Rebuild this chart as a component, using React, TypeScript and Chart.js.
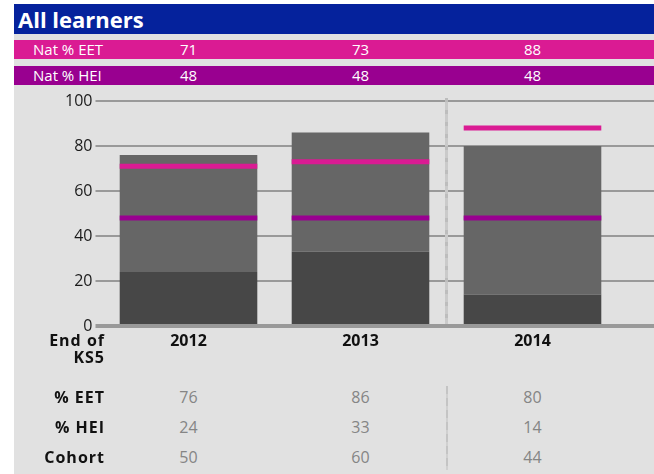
import React, { useEffect, useRef, useState } from "react";
import { Chart, registerables } from "chart.js";

Chart.register(...registerables);

const years = ["2012", "2013", "2014"];
const pctEET = [76, 86, 80];
const pctHEI = [24, 33, 14];
const cohort = [50, 60, 44];
const natEET = [71, 73, 88];
const natHEI = [48, 48, 48];
const yMin = 0;
const yMax = 100;
const yStep = 20;

const FONT = "'Open Sans', 'Noto Sans', sans-serif";
const BLUE = "#05229c";
const PINK = "#da1b93";
const PURPLE = "#990090";
const PANEL = "#e1e1e1";
const GRID = "#999999";
const DARK_BAR = "#474747";
const MID_BAR = "#666666";
const CANVAS_LEFT = 14;
const CANVAS_TOP = 88;
const CANVAS_W = 640;
const CANVAS_H = 268;

const gridWidth = (v: number) => (v === 0 ? 4 : 2);
const alignPx = (p: number, w: number) => Math.round(p - w / 2) + w / 2;

const extrasPlugin = {
  id: "extras",
  beforeDatasetsDraw(chart: any) {
    const { ctx, chartArea, scales } = chart;
    const x = scales.x;
    const y = scales.y;
    ctx.save();
    // separator between 2013 and 2014
    const sx = (x.getPixelForValue(1) + x.getPixelForValue(2)) / 2;
    ctx.strokeStyle = "#cacaca";
    ctx.lineWidth = 3;
    ctx.beginPath();
    ctx.moveTo(sx, chartArea.top - 3);
    ctx.lineTo(sx, chartArea.bottom - 2);
    ctx.stroke();
    ctx.strokeStyle = "#bdbdbd";
    ctx.setLineDash([4, 8]);
    ctx.beginPath();
    ctx.moveTo(sx, chartArea.top - 3);
    ctx.lineTo(sx, chartArea.bottom - 2);
    ctx.stroke();
    ctx.setLineDash([]);
    // extend grid lines to the right edge
    ctx.strokeStyle = GRID;
    y.ticks.forEach((t: any) => {
      const lw = gridWidth(t.value);
      const py = alignPx(y.getPixelForValue(t.value), lw);
      ctx.lineWidth = lw;
      ctx.beginPath();
      ctx.moveTo(chartArea.right - 1, py);
      ctx.lineTo(chart.width, py);
      ctx.stroke();
    });
    ctx.restore();
  },
};

export default function App() {
  const canvasRef = useRef<HTMLCanvasElement | null>(null);
  const [centers, setCenters] = useState<number[]>([188.5, 360.5, 532.5]);
  const [sepX, setSepX] = useState<number>(446.5);

  useEffect(() => {
    const canvas = canvasRef.current;
    if (!canvas) return;
    const remainder = pctEET.map((v, i) => v - pctHEI[i]);
    const chart = new Chart(canvas, {
      type: "bar",
      data: {
        labels: years,
        datasets: [
          {
            label: "Nat % EET",
            data: natEET.map((v) => [v - 1.1, v + 1.1]) as any,
            backgroundColor: PINK,
            stack: "natEET",
            grouped: false,
            order: 0,
            barPercentage: 0.8,
            categoryPercentage: 1,
          } as any,
          {
            label: "Nat % HEI",
            data: natHEI.map((v) => [v - 1.1, v + 1.1]) as any,
            backgroundColor: PURPLE,
            stack: "natHEI",
            grouped: false,
            order: 0,
            barPercentage: 0.8,
            categoryPercentage: 1,
          } as any,
          {
            label: "% HEI",
            data: pctHEI,
            backgroundColor: DARK_BAR,
            stack: "main",
            order: 1,
            barPercentage: 0.8,
            categoryPercentage: 1,
          },
          {
            label: "% EET",
            data: remainder,
            backgroundColor: MID_BAR,
            stack: "main",
            order: 1,
            barPercentage: 0.8,
            categoryPercentage: 1,
          },
        ],
      },
      options: {
        responsive: false,
        animation: false,
        layout: { padding: { top: 13, right: 35.5, left: 0, bottom: 0 } },
        plugins: {
          legend: { display: false },
          tooltip: { enabled: false },
        },
        scales: {
          x: {
            stacked: true,
            grid: { display: false, drawTicks: false },
            border: { display: false },
            ticks: {
              color: "#111111",
              font: { family: FONT, size: 16, weight: "bold" },
              padding: 6,
            },
            afterFit(scale: any) {
              scale.height = 30;
            },
          },
          y: {
            stacked: true,
            min: yMin,
            max: yMax,
            border: { display: false },
            grid: {
              color: GRID,
              tickColor: GRID,
              tickLength: 7,
              lineWidth: (c: any) => (c.tick ? gridWidth(c.tick.value) : 2),
            },
            ticks: {
              stepSize: yStep,
              color: "#1a1a1a",
              font: { family: FONT, size: 16 },
              padding: 3,
            },
            afterFit(scale: any) {
              scale.width = 88.5;
            },
          },
        },
      } as any,
      plugins: [extrasPlugin],
    });
    const xs = chart.scales.x;
    setCenters(years.map((_, i) => CANVAS_LEFT + xs.getPixelForValue(i)));
    setSepX(CANVAS_LEFT + (xs.getPixelForValue(1) + xs.getPixelForValue(2)) / 2);
    return () => chart.destroy();
  }, []);

  const headerRow = (label: string, values: number[], bg: string, top: number) => (
    <div
      style={{
        position: "absolute",
        left: 14,
        top,
        width: 640,
        height: 19,
        background: bg,
        color: "#ffffff",
        fontFamily: FONT,
        fontSize: 15,
        lineHeight: "19px",
      }}
    >
      <span style={{ position: "absolute", left: 19, top: 0 }}>{label}</span>
      {values.map((v, i) => (
        <span
          key={i}
          style={{
            position: "absolute",
            left: centers[i] - 14 - 30,
            width: 60,
            textAlign: "center",
            top: 0,
          }}
        >
          {v}
        </span>
      ))}
    </div>
  );

  const labelStyle: React.CSSProperties = {
    position: "absolute",
    left: 0,
    width: 105,
    textAlign: "right",
    fontFamily: FONT,
    fontWeight: "bold",
    fontSize: 16,
    letterSpacing: 1,
    color: "#111111",
  };

  const tableRow = (label: string, values: number[], centerY: number) => (
    <React.Fragment key={label}>
      <div style={{ ...labelStyle, top: centerY - 10, height: 20, lineHeight: "20px" }}>{label}</div>
      {values.map((v, i) => (
        <div
          key={i}
          style={{
            position: "absolute",
            left: centers[i] - 30,
            width: 60,
            top: centerY - 10,
            height: 20,
            lineHeight: "20px",
            textAlign: "center",
            fontFamily: FONT,
            fontSize: 16,
            color: "#858585",
          }}
        >
          {v}
        </div>
      ))}
    </React.Fragment>
  );

  return (
    <div style={{ position: "absolute", left: 0, top: 0, width: 654, height: 474, background: "#ffffff", overflow: "hidden" }}>
      <div style={{ position: "absolute", left: 14, top: 4, width: 640, height: 470, background: PANEL }} />
      <div
        style={{
          position: "absolute",
          left: 14,
          top: 4,
          width: 640,
          height: 30,
          background: BLUE,
          color: "#ffffff",
          fontFamily: FONT,
          fontWeight: "bold",
          fontSize: 22,
          lineHeight: "30px",
        }}
      >
        <span style={{ position: "absolute", left: 4, top: 0 }}>All learners</span>
      </div>
      {headerRow("Nat % EET", natEET, PINK, 40)}
      {headerRow("Nat % HEI", natHEI, PURPLE, 66)}
      <canvas
        ref={canvasRef}
        width={CANVAS_W}
        height={CANVAS_H}
        style={{ position: "absolute", left: CANVAS_LEFT, top: CANVAS_TOP, width: CANVAS_W, height: CANVAS_H }}
      />
      <div style={{ ...labelStyle, top: 332, lineHeight: "17px" }}>
        End of
        <br />
        KS5
      </div>
      <div
        style={{
          position: "absolute",
          left: sepX - 1,
          top: 386,
          width: 2,
          height: 84,
          background: "repeating-linear-gradient(to bottom, #c4c4c4 0px, #c4c4c4 8px, #d0d0d0 8px, #d0d0d0 12px)",
        }}
      />
      {tableRow("% EET", pctEET, 397)}
      {tableRow("% HEI", pctHEI, 427)}
      {tableRow("Cohort", cohort, 457)}
    </div>
  );
}
